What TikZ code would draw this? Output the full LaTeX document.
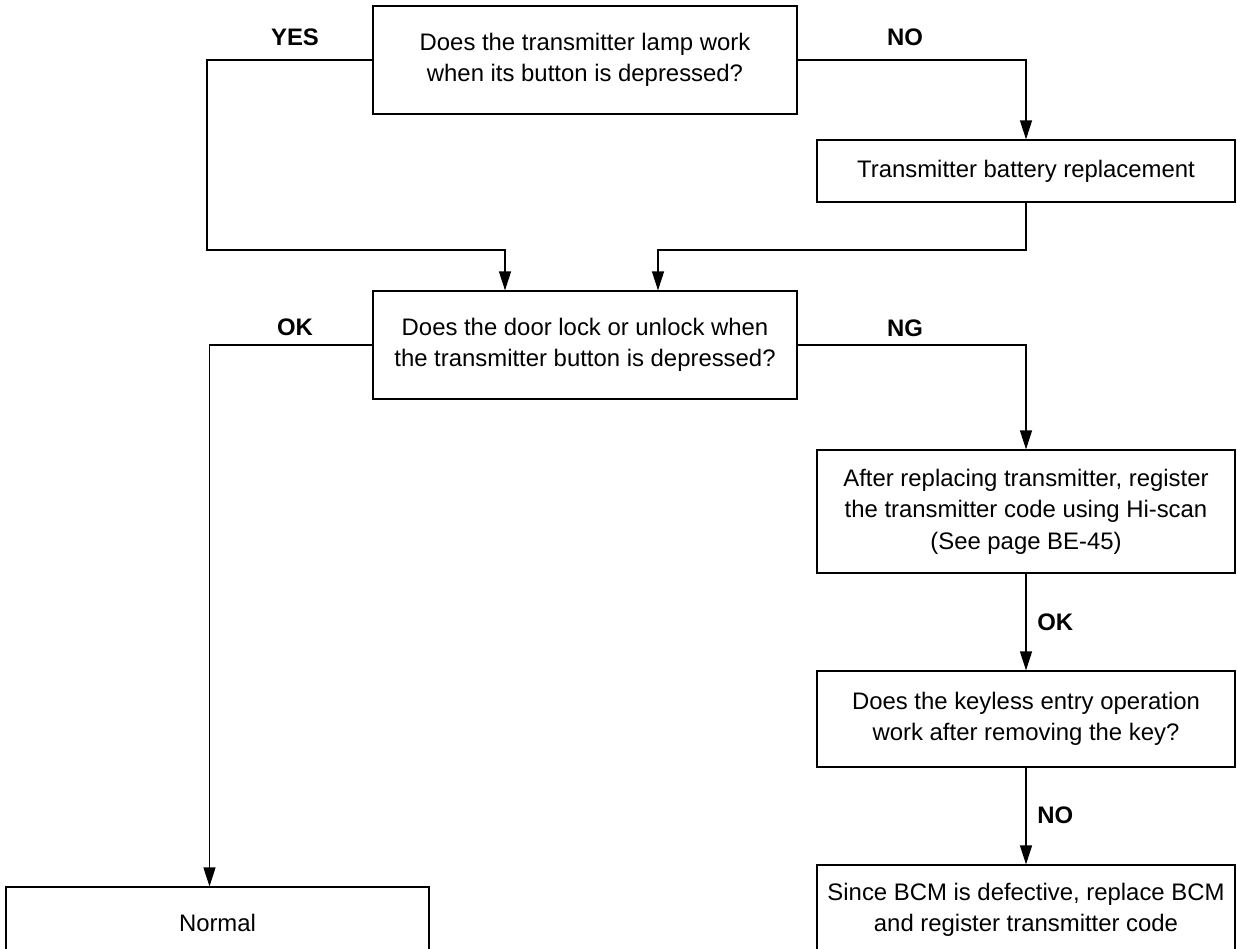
\documentclass[tikz,border=0pt]{standalone}
\usepackage{fontspec}
\setmainfont{Liberation Sans}
\usepackage{tikz}
\usetikzlibrary{arrows.meta, positioning, calc}

\tikzset{
  box/.style={draw, line width=0.7pt, align=center, inner sep=0pt,
    font=\fontsize{13.6}{18}\selectfont},
  lbl/.style={font=\fontsize{13.6}{18}\selectfont\bfseries, inner sep=0pt},
  arr/.style={line width=0.7pt, -{Triangle[length=0.38cm,width=0.24cm]}},
  ln/.style={line width=0.7pt}
}

\begin{document}
\begin{tikzpicture}[x=0.02cm,y=-0.02cm]
  \clip (0,0) rectangle (1237,949);
  % question boxes in the middle column
  \node[box, minimum width=8.48cm, minimum height=2.16cm] (lamp) at (585,60)
    {Does the transmitter lamp work\\when its button is depressed?};
  \node[box, minimum width=8.48cm, minimum height=2.16cm] (door) at (585,345)
    {Does the door lock or unlock when\\the transmitter button is depressed?};
  % right column
  \node[box, minimum width=8.36cm, minimum height=1.24cm] (battery) at (1026,171)
    {Transmitter battery replacement};
  \node[box, minimum width=8.36cm, minimum height=2.46cm] (register) at (1026,511.5)
    {After replacing transmitter, register\\the transmitter code using Hi-scan\\(See page BE-45)};
  \node[box, minimum width=8.36cm, minimum height=1.92cm] (keyless) at (1026,719)
    {Does the keyless entry operation\\work after removing the key?};
  \node[box, minimum width=8.36cm, minimum height=1.8cm] (bcm) at (1026,910)
    {Since BCM is defective, replace BCM\\and register transmitter code};
  % left column
  \node[box, minimum width=8.46cm, minimum height=1.44cm] (normal) at (217.5,923)
    {Normal};

  \coordinate (yesfoot) at (207,250);
  \coordinate (mergeL) at (505,250);
  \coordinate (mergeR) at (658,250);

  \draw[arr] (lamp.west) -| (yesfoot) -- (mergeL) -- (mergeL |- door.north);
  \draw[arr] (lamp.east) -| (battery.north);
  \draw[arr] (battery.south) |- (mergeR) -- (mergeR |- door.north);
  \draw[arr] (door.west) -| ($(normal.north)+(-8,0)$);
  \draw[arr] (door.east) -| (register.north);
  \draw[arr] (register.south) -- (keyless.north);
  \draw[arr] (keyless.south) -- (bcm.north);

  \node[lbl] (yes) at (295,37) {YES};
  \node[lbl] (no) at (905,37) {NO};
  \node[lbl] (ok) at (295,327) {OK};
  \node[lbl] (ng) at (905,328) {NG};
  \node[lbl, anchor=west] (regok) at (1037,622) {OK};
  \node[lbl, anchor=west] (keyno) at (1037,815) {NO};
\end{tikzpicture}
\end{document}
